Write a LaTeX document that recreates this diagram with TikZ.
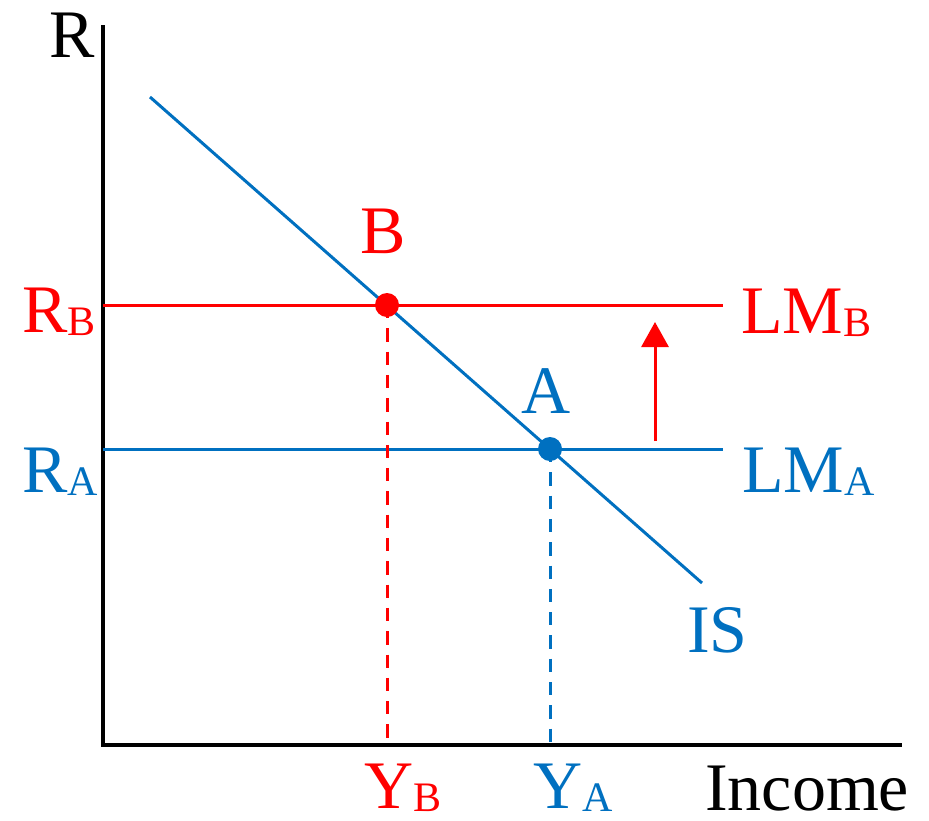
\documentclass[tikz,border=0pt]{standalone}
\usepackage{fontspec}
\setmainfont{Liberation Serif}
\usetikzlibrary{arrows.meta}
\definecolor{myblue}{HTML}{0070C0}
\definecolor{myred}{HTML}{FF0000}
\newcommand{\mysub}[1]{{\fontsize{42}{48}\selectfont\raisebox{-3.5pt}{#1}}}
\begin{document}
\begin{tikzpicture}[x=1pt,y=-1pt,
  lbl/.style={inner sep=0pt,font=\fontsize{68}{80}\selectfont},
  axisline/.style={line width=3.5pt,black},
  curve/.style={line width=3pt},
  dropline/.style={line width=3pt,dash pattern=on 13.3pt off 10pt},
  eqdot/.style={circle,inner sep=0pt,minimum size=24pt},
  shiftarrow/.style={line width=3pt,myred,-{Triangle[width=27pt,length=25pt]}}]
\useasboundingbox (0,0) rectangle (929,820);
% axes
\coordinate (O) at (103,745);
\coordinate (Ytop) at (103,25);
\coordinate (Xend) at (902,745);
\draw[axisline] (Ytop) -- (O) -- (Xend);
% IS curve
\coordinate (IS1) at (150,97);
\coordinate (IS2) at (702,583);
\draw[curve,myblue] (IS1) -- (IS2);
% LM curves
\coordinate (LMB0) at (103,305);
\coordinate (LMB1) at (723,305);
\coordinate (LMA0) at (103,449);
\coordinate (LMA1) at (723,449);
\draw[curve,myred] (LMB0) -- (LMB1);
\draw[curve,myblue] (LMA0) -- (LMA1);
% equilibrium points
\coordinate (Bpt) at (387,305);
\coordinate (Apt) at (550,449);
\coordinate (Bax) at (387,745);
\coordinate (Aax) at (550,745);
\draw[dropline,myred] (Bpt) -- (Bax);
\draw[dropline,myblue] (Apt) -- (Aax);
\node[eqdot,fill=myred] (B) at (Bpt) {};
\node[eqdot,fill=myblue] (A) at (Apt) {};
% shift arrow
\coordinate (arS) at (655,441);
\coordinate (arE) at (655,322);
\draw[shiftarrow] (arS) -- (arE);
% labels
\node[lbl,anchor=base west] (Rlbl) at (49,57) {R};
\node[lbl,anchor=base,text=myred] (Blbl) at (383,253) {B};
\node[lbl,anchor=base,text=myblue] (Albl) at (546,413) {A};
\node[lbl,anchor=base west,text=myred] (RB) at (22,332) {R\mysub{B}};
\node[lbl,anchor=base west,text=myblue] (RA) at (22,492) {R\mysub{A}};
\node[lbl,anchor=base west,text=myred] (LMB) at (741,333) {LM\mysub{B}};
\node[lbl,anchor=base west,text=myblue] (LMA) at (742,492) {LM\mysub{A}};
\node[lbl,anchor=base west,text=myblue] (ISl) at (687,652) {IS};
\node[lbl,anchor=base west,text=myred] (YB) at (364,808) {Y\mysub{B}};
\node[lbl,anchor=base west,text=myblue] (YA) at (533,808) {Y\mysub{A}};
\node[lbl,anchor=base west] (Inc) at (705,810) {Income};
\end{tikzpicture}
\end{document}
